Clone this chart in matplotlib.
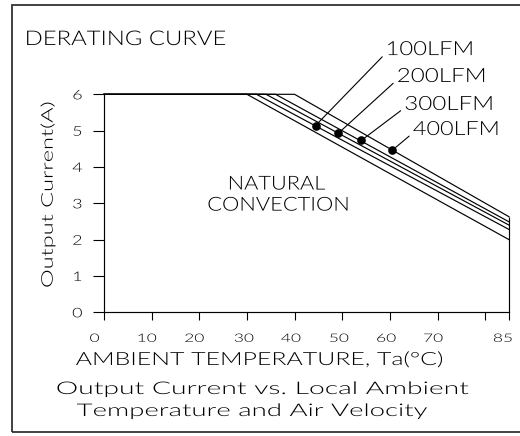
import numpy as np
import matplotlib
matplotlib.use("Agg")
import matplotlib.pyplot as plt
from matplotlib.patheffects import AbstractPathEffect
from matplotlib.transforms import Affine2D, ScaledTranslation
from matplotlib.patches import Rectangle

plt.rcParams['font.family'] = ['Lato', 'DejaVu Sans']
plt.rcParams['font.weight'] = 300
plt.rcParams['axes.labelweight'] = 300

# ---- derating data -------------------------------------------------------
curve_names = ['NATURAL CONVECTION', '100LFM', '200LFM', '300LFM', '400LFM']
knee_temp = [30, 32, 34, 36, 40]            # degC where derating starts
current_at_85 = [2.00, 2.28, 2.40, 2.49, 2.63]  # A at 85 degC
rated_current = 6.0
temp_min, temp_max = 0, 85

airflow_labels = ['100LFM', '200LFM', '300LFM', '400LFM']
marker_temp = [44.4, 49.2, 54.0, 60.5]
marker_current = [5.14, 4.93, 4.73, 4.46]

x_ticks = [0, 10, 20, 30, 40, 50, 60, 70, 80, 85]
x_tick_labels = ['0', '10', '20', '30', '40', '50', '60', '70', '', '85']
y_ticks = [0, 1, 2, 3, 4, 5, 6]
y_tick_labels = ['0', '1', '2', '3', '4', '5', '6']

W, H = 520, 436
INK = '#000000'


class Stretch(AbstractPathEffect):
    """Draw glyph outlines widened horizontally (plotter-style lettering)."""

    def __init__(self, width=None, factor=1.0, anchor='center'):
        super().__init__()
        self.width = width
        self.factor = factor
        self.anchor = anchor

    def draw_path(self, renderer, gc, tpath, affine, rgbFace=None):
        ext = tpath.get_extents()
        m = affine.get_matrix()
        scale = np.hypot(m[0, 0], m[1, 0])
        if self.width is not None and ext.width > 0:
            sx = self.width / (ext.width * scale)
        else:
            sx = self.factor
        x0 = {'left': ext.x0, 'center': 0.5 * (ext.x0 + ext.x1),
              'right': ext.x1}[self.anchor]
        widen = Affine2D().translate(-x0, 0).scale(sx, 1.0).translate(x0, 0)
        renderer.draw_path(gc, tpath, widen + affine, rgbFace)


def fs(cap_px):
    """Font size in points for a given capital height in pixels."""
    return cap_px / 0.717 * 0.72


def fig_xy(x, y):
    return x / W, 1 - y / H


fig = plt.figure(figsize=(W / 100, H / 100), dpi=100)
ax = fig.add_axes([104 / W, 1 - 312.3 / H, 405 / W, 218 / H])

# outer frame
fig.patches.append(Rectangle(fig_xy(12, 432), 1.5, 427 / H, transform=fig.transFigure,
                             fill=False, lw=1.3, ec='#333333'))

# derating curves
for knee, end in zip(knee_temp, current_at_85):
    ax.plot([temp_min, knee, temp_max], [rated_current, rated_current, end],
            color=INK, lw=0.85, clip_on=False, solid_joinstyle='miter')
ax.vlines(temp_max, 0, max(current_at_85), color=INK, lw=0.85, clip_on=False)

# airflow markers with leader lines
label_pos = [(59.18, 7.08), (61.49, 6.34), (63.07, 5.57), (64.85, 4.88)]
label_width = [83.7, 86, 86, 84]
ax.plot(marker_temp, marker_current, 'o', color='black', ms=5.2, clip_on=False)
for name, t, c, (lx, ly), w in zip(airflow_labels, marker_temp, marker_current,
                                   label_pos, label_width):
    ann = ax.annotate(name, xy=(t, c), xytext=(lx, ly), textcoords='data',
                      ha='left', va='baseline', fontsize=fs(14), color=INK,
                      annotation_clip=False,
                      arrowprops=dict(arrowstyle='-', color=INK, lw=0.8,
                                      shrinkA=1, shrinkB=0, relpos=(0, 0.3)))
    ann.set_path_effects([Stretch(width=w, anchor='left')])

# natural convection note
for txt, (t, c), w in zip(['NATURAL', 'CONVECTION'], [(36.2, 3.53), (36.6, 2.95)], [95, 139]):
    t_ = ax.text(t, c, txt, ha='center', va='center', fontsize=fs(13.8), color=INK)
    t_.set_path_effects([Stretch(width=w, anchor='center')])

# axes styling
ax.set_xlim(temp_min, temp_max)
ax.set_ylim(0, rated_current)
for side in ['top', 'right']:
    ax.spines[side].set_visible(False)
for side in ['left', 'bottom']:
    ax.spines[side].set_color(INK)
    ax.spines[side].set_linewidth(0.85)

ax.set_xticks(x_ticks)
ax.set_xticklabels(x_tick_labels)
ax.set_yticks(y_ticks)
ax.set_yticklabels(y_tick_labels)
ax.tick_params(axis='x', direction='out', length=5.8, width=0.8, color=INK,
               labelsize=fs(8.3), pad=9, labelcolor=INK)
ax.tick_params(axis='y', direction='out', length=7.9, width=0.8, color=INK,
               labelsize=fs(9.5), pad=8.5, labelcolor=INK)

ax.set_xlabel('AMBIENT TEMPERATURE, Ta(°C)', fontsize=fs(13), color=INK, va='baseline')
ax.xaxis.set_label_coords(0.382, -0.2417)
ax.xaxis.label.set_path_effects([Stretch(width=366)])
ax.set_ylabel('Output Current(A)', fontsize=fs(11.5), color=INK, va='center')
ax.yaxis.set_label_coords(-0.138, 0.538)
ax.yaxis.label.set_path_effects([Stretch(width=184)])

# title and caption
t = fig.text(*fig_xy(25, 45), 'DERATING CURVE', ha='left', va='baseline',
             fontsize=fs(14.5), color=INK)
t.set_path_effects([Stretch(width=198, anchor='left')])
for line, (cx, by), w in zip(['Output Current vs. Local Ambient', 'Temperature and Air Velocity'],
                             [(262.3, 394), (251.8, 416)], [411, 350]):
    t = fig.text(*fig_xy(cx, by), line, ha='center', va='baseline',
                 fontsize=fs(12.5), color=INK)
    t.set_path_effects([Stretch(width=w)])

# tick label lettering and small offsets
x_shift_px = [-9.5, -4.7, -5, -3, -3.7, -3.3, -3.7, -4.4, 0, -6]
for tick, dx in zip(ax.xaxis.get_major_ticks(), x_shift_px):
    lbl = tick.label1
    lbl.set_transform(lbl.get_transform() + ScaledTranslation(dx / 100, 0, fig.dpi_scale_trans))
    lbl.set_path_effects([Stretch(factor=1.5)])
for tick in ax.yaxis.get_major_ticks():
    tick.label1.set_path_effects([Stretch(factor=1.35)])

fig.savefig('out.png', dpi=100)
